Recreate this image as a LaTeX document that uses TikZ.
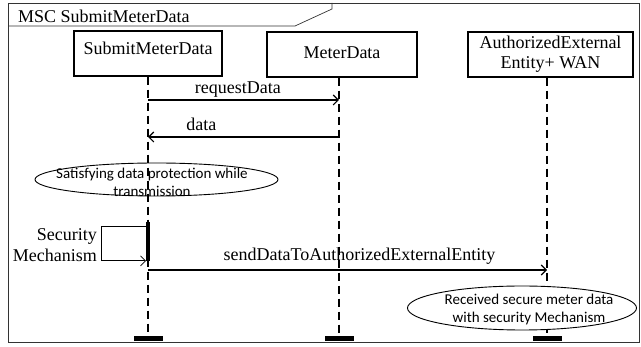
\documentclass[tikz,border=0pt]{standalone}
\usepackage{fontspec}
\setmainfont{Liberation Serif}
\newfontfamily\notefont{Carlito}
\usetikzlibrary{shapes,positioning,arrows.meta}
\tikzset{actor/.style={draw,line width=1.1pt,inner sep=0pt,align=center,
    font=\fontsize{18}{20}\selectfont}}
\tikzset{lifeline/.style={line width=1.4pt,dash pattern=on 8pt off 5pt}}
\tikzset{msg/.style={line width=1.1pt,-{Straight Barb[length=5pt,width=10pt]}}}
\tikzset{note/.style={draw,ellipse,line width=0.9pt,inner sep=0pt}}
\tikzset{notetext/.style={inner sep=0pt,align=center,
    font=\notefont\fontsize{15}{18}\selectfont}}
\tikzset{endbar/.style={fill=black,minimum width=29pt,minimum height=5pt,inner sep=0pt}}

\begin{document}
\begin{tikzpicture}[x=1pt,y=-1pt,font=\fontsize{18}{21}\selectfont]
\useasboundingbox (0,0) rectangle (641,347);

% frame and title tab
\draw[line width=0.7pt,black!80] (8,3) rectangle (639,342);
\draw[line width=0.7pt,black!80] (8,26) -- (295,26) -- (332,9) -- (332,3);
\node[anchor=west,inner sep=0pt] (title) at (18,16) {MSC SubmitMeterData};

% instances
\node[actor,
    minimum width=148pt,
    minimum height=45pt,
    text depth=10pt
] (smd) at (148,53.5) {SubmitMeterData};

\node[actor,
    minimum width=150pt,
    minimum height=45pt,
    text depth=3pt
] (md) at (342,54.5) {MeterData};

\node[actor,
    minimum width=165pt,
    minimum height=45pt
] (aee) at (550.5,54.5) {AuthorizedExternal\\Entity+ WAN};

% end bars
\node[endbar] (smd end) at (148,338.5) {};
\node[endbar] (md end) at (339,338.5) {};
\node[endbar] (aee end) at (547,338.5) {};

% lifelines
\draw[lifeline] (smd.south -| smd end) -- (smd end);
\draw[lifeline] (md.south -| md end) -- (md end);
\draw[lifeline] (aee.south -| aee end) -- (aee end);

% messages
\draw[msg] (smd end |- 0,100) -- node[above=2.5pt,inner sep=0pt,pos=0.47] (req) {requestData} (md end |- 0,100);
\draw[msg] (md end |- 0,137) -- node[above=6pt,inner sep=0pt,pos=0.72] (dat) {data} (smd end |- 0,137);

% protection note
\node[note,
    minimum width=243pt,
    minimum height=33pt
] (prot) at (156.5,179.5) {};
\node[notetext] (prot text) at ([shift={(-4.5,2.5)}]prot.center) {Satisfying data protection while\\transmission};

% activation and self call
\node[draw,fill=black,line width=0.8pt,minimum width=3pt,minimum height=38pt,inner sep=0pt] (act) at (148,241.5) {};
\draw[line width=0.8pt,-{Straight Barb[length=5pt,width=10pt]}]
    ([yshift=-4pt]act.north west) -- ++(-45,0) |- (act.south west);
\node[anchor=east,inner sep=0pt,align=right] (secmech) at (97,245.5) {Security\\Mechanism};

\draw[msg] (smd end |- 0,270) -- node[above=5.5pt,inner sep=0pt,pos=0.53] (send) {sendDataToAuthorizedExternalEntity} (aee end |- 0,270);

% received note
\node[note,
    fill=white,
    minimum width=229pt,
    minimum height=44pt
] (recv) at (522,308) {};
\node[notetext] (recv text) at ([shift={(7,2)}]recv.center) {Received secure meter data\\with security Mechanism};

\end{tikzpicture}
\end{document}
